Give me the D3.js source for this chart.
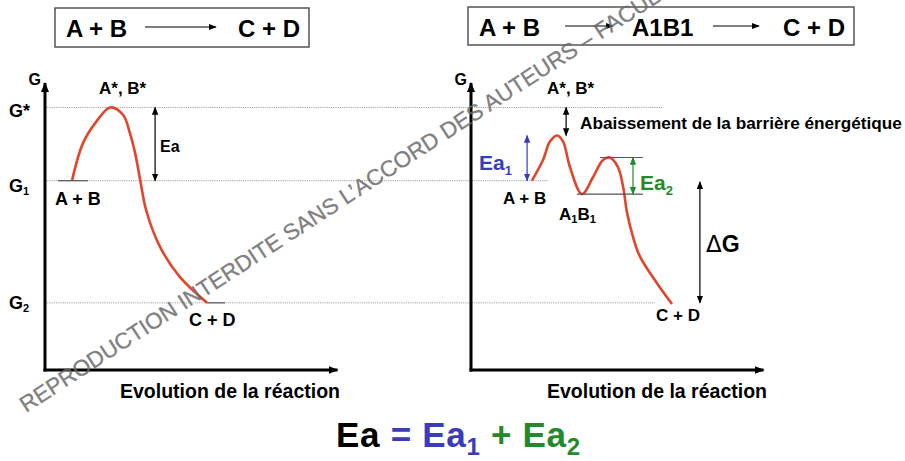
<!DOCTYPE html>
<html><head><meta charset="utf-8">
<script src="https://cdn.jsdelivr.net/npm/d3@7"></script>
<style>
html,body{margin:0;padding:0;background:#fff;}
svg{display:block;font-family:"Liberation Sans",Arial,sans-serif;font-weight:bold;}
</style></head>
<body><svg id="c" width="905" height="461"></svg>
<script>
// ---- data ----
const levelNames = ["G*", "G1", "G2"];
const levelValues = [16, 10, 0];
// left profile (reaction progress %, G)
const leftX = [9, 12.7, 17.3, 21.7, 26, 28.3, 30, 31.7, 33.7, 38.3, 45, 54];
const leftG = [10, 13.1, 14.9, 16, 15.4, 13.9, 12.3, 10.1, 7.6, 4.6, 2.1, 0];
// right profile (catalysed, via intermediate A1B1)
const rightX = [20.3, 24, 26.3, 28.7, 30.7, 33, 37, 40.7, 44, 46.3, 49, 50.7, 52, 54, 56.3, 62, 67];
const rightG = [10, 11.7, 13.2, 13.7, 13.2, 11.1, 8.9, 10.3, 11.7, 11.9, 11.1, 9.5, 7.4, 5.4, 3.8, 1.6, -0.1];
const rightLevels = {peak1: 13.7, a1b1: 8.9, peak2: 11.9};
const xAxisTitle = "Evolution de la réaction";

// ---- scales ----
const svg = d3.select("#c");
const y = d3.scaleLinear().domain([-5.5, 18]).range([370, 83]);
const xL = d3.scaleLinear().domain([0, 100]).range([45, 345]);
const xR = d3.scaleLinear().domain([0, 100]).range([471, 771]);
const RED = "#e2452a", BLUE = "#3b3bbd", GREEN = "#23892a";

// markers
const defs = svg.append("defs");
function marker(id, color, size) {
  defs.append("marker").attr("id", id).attr("viewBox", "0 0 10 10")
    .attr("refX", 9).attr("refY", 5).attr("markerWidth", size).attr("markerHeight", size)
    .attr("markerUnits", "userSpaceOnUse").attr("orient", "auto-start-reverse")
    .append("path").attr("d", "M0,1 L10,5 L0,9 Z").attr("fill", color);
}
marker("ab", "#000", 8); marker("abig", "#000", 10); marker("abl", BLUE, 8); marker("agr", GREEN, 8);

// dotted guide lines
const guides = [[16, 663], [10, 548], [0, 655]];
svg.selectAll(".guide").data(guides).enter().append("line")
  .attr("x1", xL(0)).attr("x2", d => d[1]).attr("y1", d => y(d[0])).attr("y2", d => y(d[0]))
  .attr("stroke", "#888").attr("stroke-width", 0.8).attr("stroke-dasharray", "1.2,1");

// axes
function axes(x, cx) {
  svg.append("line").attr("x1", x(0)).attr("x2", x(0)).attr("y1", y(-5.5) + 1.5).attr("y2", y(18))
    .attr("stroke", "#000").attr("stroke-width", 3).attr("marker-end", "url(#abig)");
  svg.append("line").attr("x1", x(0) - 1.5).attr("x2", x(97.5)).attr("y1", y(-5.5)).attr("y2", y(-5.5))
    .attr("stroke", "#000").attr("stroke-width", 3).attr("marker-end", "url(#abig)");
  svg.append("text").attr("x", cx).attr("y", 398).attr("text-anchor", "middle")
    .attr("font-size", 19.5).text(xAxisTitle);
  svg.append("text").attr("x", x(0) - 4).attr("y", 85).attr("text-anchor", "end").attr("font-size", 16).text("G");
}
axes(xL, 230); axes(xR, 657);

// level labels on left axis
const lvlY = [117, 192, 309];
levelNames.forEach((n, i) => {
  const t = svg.append("text").attr("x", 9).attr("y", lvlY[i]).attr("font-size", 18);
  if (n === "G*") t.text("G*");
  else { t.append("tspan").text("G"); t.append("tspan").attr("font-size", 11).attr("dy", 3).text(n.slice(1)); }
});

// profiles
const line = d3.line().curve(d3.curveCatmullRom.alpha(0.5));
svg.append("path").attr("d", line(leftX.map((v, i) => [xL(v), y(leftG[i])])))
  .attr("fill", "none").attr("stroke", RED).attr("stroke-width", 2.6);
svg.append("path").attr("d", line(rightX.map((v, i) => [xR(v), y(rightG[i])])))
  .attr("fill", "none").attr("stroke", RED).attr("stroke-width", 2.6);

// short level bars
function bar(x1, x2, g, c) {
  svg.append("line").attr("x1", x1).attr("x2", x2).attr("y1", y(g)).attr("y2", y(g))
    .attr("stroke", c || "#555").attr("stroke-width", 1.2);
}
bar(xL(4.3), xL(14.3), 10); bar(xL(54), xL(60), 0);
bar(xR(35.3), xR(57.3), rightLevels.a1b1); bar(xR(43), xR(57.3), rightLevels.peak2);

// arrows
function arrow(x, g1, g2, mk, c, w) {
  svg.append("line").attr("x1", x).attr("x2", x).attr("y1", y(g1)).attr("y2", y(g2))
    .attr("stroke", c).attr("stroke-width", w || 1.2)
    .attr("marker-start", "url(#" + mk + ")").attr("marker-end", "url(#" + mk + ")");
}
arrow(xL(36.7), 16, 10, "ab", "#000");
arrow(xR(31.7), 16, rightLevels.peak1, "ab", "#000");
arrow(xR(18.7), rightLevels.peak1, 10, "abl", BLUE);
arrow(xR(54), rightLevels.peak2, rightLevels.a1b1, "agr", GREEN);
arrow(xR(76.3), 9.9, 0, "ab", "#000");

// text labels
function txt(x, yy, s, size, color, anchor) {
  return svg.append("text").attr("x", x).attr("y", yy).attr("font-size", size)
    .attr("fill", color || "#000").attr("text-anchor", anchor || "start").text(s);
}
txt(99, 94, "A*, B*", 17);
txt(160, 152, "Ea", 16);
txt(55, 205, "A + B", 18);
txt(189, 326, "C + D", 18);

txt(547, 94, "A*, B*", 17);
txt(580, 129, "Abaissement de la barrière énergétique", 17.2);
const ea1 = txt(479, 170, "Ea", 21, BLUE); ea1.append("tspan").attr("font-size", 13).attr("dy", 5).text("1");
const ea2 = txt(640, 190, "Ea", 21, GREEN); ea2.append("tspan").attr("font-size", 13).attr("dy", 5).text("2");
txt(503, 204, "A + B", 17);
const ab1 = txt(559, 220, "A", 17); ab1.append("tspan").attr("font-size", 11).attr("dy", 3).text("1");
ab1.append("tspan").attr("dy", -3).text("B"); ab1.append("tspan").attr("font-size", 11).attr("dy", 3).text("1");
svg.append("text").attr("x", 706).attr("y", 252).attr("font-size", 23).attr("font-weight", "normal")
  .attr("font-family", "'DejaVu Sans',sans-serif").text("Δ")
  .append("tspan").attr("font-family", "'Liberation Sans',Arial,sans-serif").attr("font-weight", "bold").text("G");
txt(656, 321, "C + D", 17);

// equation boxes
function box(x1, x2, y1, y2) {
  svg.append("rect").attr("x", x1).attr("y", y1).attr("width", x2 - x1).attr("height", y2 - y1)
    .attr("fill", "none").attr("stroke", "#555").attr("stroke-width", 1.5);
}
function harrow(x1, x2, yy) {
  svg.append("line").attr("x1", x1).attr("x2", x2).attr("y1", yy).attr("y2", yy)
    .attr("stroke", "#000").attr("stroke-width", 1.2).attr("marker-end", "url(#ab)");
}
box(55, 309, 8, 47);
txt(66, 37, "A + B", 24); harrow(145, 216, 27); txt(238, 37, "C + D", 24);
box(468, 854, 7, 45);
txt(479, 36, "A + B", 24); harrow(565, 613, 26); txt(632, 36, "A1B1", 24);
harrow(713, 759, 26); txt(783, 36, "C + D", 24);

// bottom equation
const eq = svg.append("text").attr("x", 336).attr("y", 447).attr("font-size", 35).attr("letter-spacing", 0.7);
eq.append("tspan").attr("fill", "#000").text("Ea ");
eq.append("tspan").attr("fill", BLUE).text("= Ea");
eq.append("tspan").attr("fill", BLUE).attr("font-size", 24).attr("dy", 8).text("1");
eq.append("tspan").attr("fill", GREEN).attr("dy", -8).text(" + Ea");
eq.append("tspan").attr("fill", GREEN).attr("font-size", 24).attr("dy", 8).text("2");

// watermark
svg.append("text").attr("transform", "translate(26,413) rotate(-33)")
  .attr("font-size", 22.5).attr("font-weight", "normal").attr("fill", "#6a6a6a").attr("opacity", 0.85)
  .attr("stroke", "#6a6a6a").attr("stroke-width", 0.4).attr("stroke-opacity", 0.85)
  .text("REPRODUCTION INTERDITE SANS L’ACCORD DES AUTEURS – FACULTÉ");
</script></body></html>
